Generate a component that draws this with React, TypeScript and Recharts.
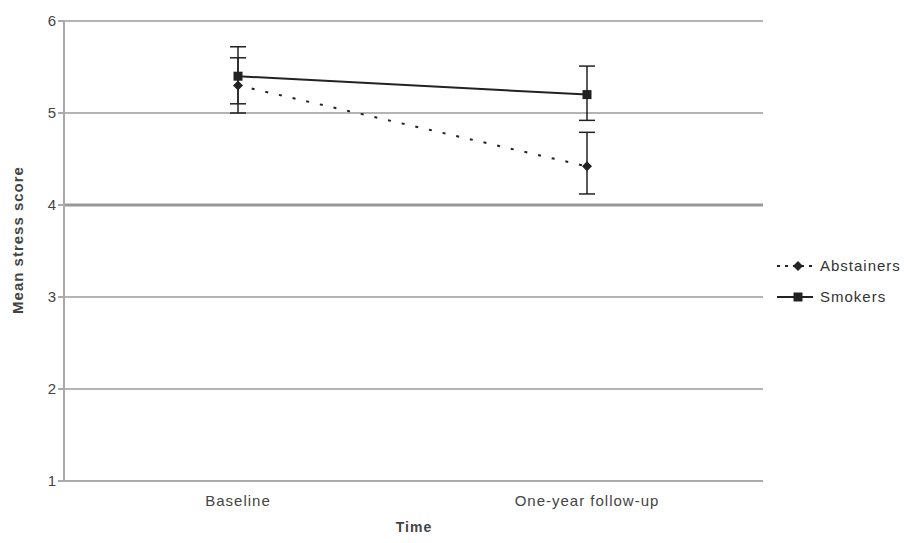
import { LineChart, Line, XAxis, YAxis, CartesianGrid, ErrorBar, ReferenceLine, Label } from 'recharts'

const categories = ['Baseline', 'One-year follow-up']
const abstainers = [5.3, 4.42]
const abstainersErr = [[0.3, 0.3], [0.3, 0.37]]
const smokers = [5.4, 5.2]
const smokersErr = [[0.3, 0.32], [0.28, 0.31]]
const yTicks = [1, 2, 3, 4, 5, 6]

const data = categories.map((name, i) => ({
  name,
  abstainers: abstainers[i],
  abstainersErr: abstainersErr[i],
  smokers: smokers[i],
  smokersErr: smokersErr[i],
}))

const font = '"Liberation Sans", Arial, sans-serif'
const ink = '#222'

const Diamond = (props: any) => {
  const { cx, cy, index } = props
  const s = 5
  return <path key={'d' + index} d={`M${cx},${cy - s}L${cx + s},${cy}L${cx},${cy + s}L${cx - s},${cy}Z`} fill={ink} />
}

const Square = (props: any) => {
  const { cx, cy, index } = props
  return <rect key={'s' + index} x={cx - 4.5} y={cy - 4.5} width={9} height={9} fill={ink} />
}

// legend drawn by hand, Recharts' Legend steals plot height
const LegendBox = () => (
  <svg width={134} height={60} style={{ position: 'absolute', left: 773, top: 252, fontFamily: font }}>
    <line x1={4} y1={14} x2={40} y2={14} stroke={ink} strokeWidth={2} strokeDasharray="3 5" />
    <path d="M25,9L30,14L25,19L20,14Z" fill={ink} />
    <text x={47} y={19} fontSize={15} letterSpacing={1} fill="#333">Abstainers</text>
    <line x1={4} y1={45} x2={40} y2={45} stroke={ink} strokeWidth={2} />
    <rect x={20.5} y={40.5} width={9} height={9} fill={ink} />
    <text x={47} y={50} fontSize={15} letterSpacing={1} fill="#333">Smokers</text>
  </svg>
)

export default function App() {
  return (
    <div style={{ margin: -8, position: 'relative', width: 909, height: 543, background: '#fff', fontFamily: font }}>
      <LineChart width={909} height={543} data={data} margin={{ top: 21, right: 146, bottom: 22, left: 20 }}>
        <CartesianGrid vertical={false} stroke="#b4b4b4" strokeWidth={2} />
        <XAxis
          dataKey="name"
          height={40}
          padding={{ left: 174, right: 176 }}
          stroke="#aaa"
          strokeWidth={2}
          tickLine={false}
          tick={{ fill: '#444', fontSize: 15, letterSpacing: 1 }}
          dy={6}
        >
          <Label
            content={() => (
              <text x={414} y={532} textAnchor="middle" fontSize={14} fontWeight="bold" letterSpacing={1} fill="#444">
                Time
              </text>
            )}
          />
        </XAxis>
        <YAxis
          domain={[1, 6]}
          ticks={yTicks}
          width={44}
          stroke="#aaa"
          strokeWidth={2}
          tickSize={6}
          tick={{ fill: '#444', fontSize: 15 }}
        >
          <Label
            content={() => (
              <text x={23} y={240} transform="rotate(-90 23 240)" textAnchor="middle" fontSize={15} fontWeight="bold" letterSpacing={1} fill="#444">
                Mean stress score
              </text>
            )}
          />
        </YAxis>
        <ReferenceLine y={4} stroke="#999" strokeWidth={3} />
        <Line
          dataKey="abstainers"
          name="Abstainers"
          stroke={ink}
          strokeWidth={2}
          strokeDasharray="3 11"
          dot={Diamond}
          isAnimationActive={false}
        >
          <ErrorBar dataKey="abstainersErr" width={8} stroke={ink} strokeWidth={1.5} />
        </Line>
        <Line
          dataKey="smokers"
          name="Smokers"
          stroke={ink}
          strokeWidth={2}
          dot={Square}
          isAnimationActive={false}
        >
          <ErrorBar dataKey="smokersErr" width={8} stroke={ink} strokeWidth={1.5} />
        </Line>
      </LineChart>
      <LegendBox />
    </div>
  )
}
